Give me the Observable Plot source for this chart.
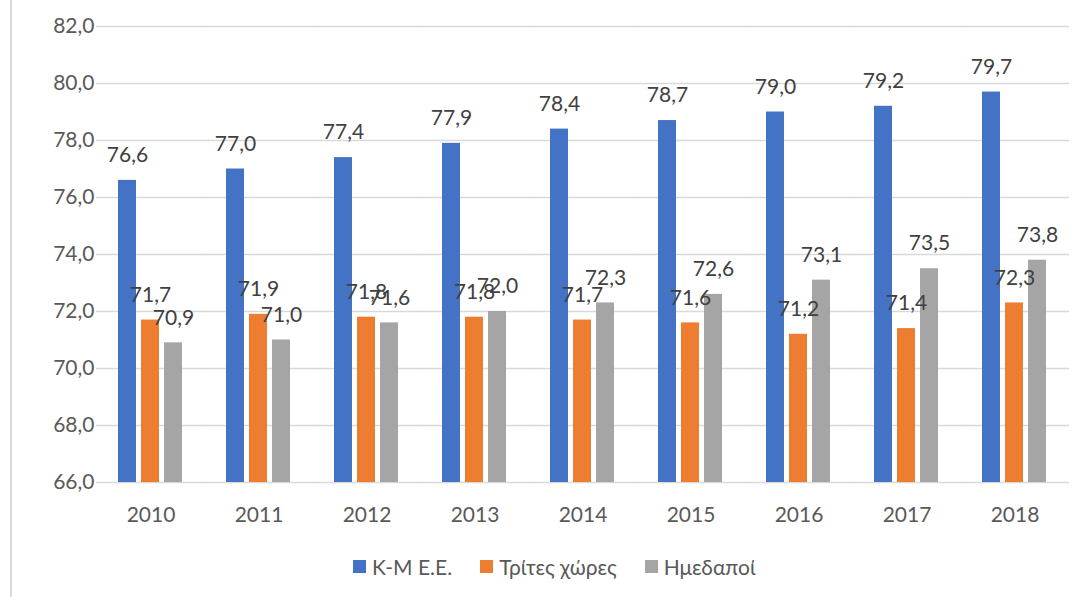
<!DOCTYPE html>
<html><head><meta charset="utf-8">
<script src="https://cdn.jsdelivr.net/npm/d3@7"></script>
<script src="https://cdn.jsdelivr.net/npm/@observablehq/plot@0.6"></script>
<style>
body{margin:0;background:#fff;font-family:Lato,"Open Sans",sans-serif;}
#wrap{position:relative;width:1088px;height:597px;overflow:hidden;}
#frame{position:absolute;left:10px;top:0;width:2px;height:597px;background:#d9d9d9;}
#chart{position:absolute;left:0;top:0;}
#legend{position:absolute;left:353px;top:554px;display:flex;align-items:center;font-size:21px;color:#595959;white-space:nowrap;}
#legend .item{display:flex;align-items:center;margin-right:28px;}
#legend .sw{width:13px;height:13px;margin-right:6px;}
</style></head>
<body>
<div id="wrap"><div id="frame"></div><div id="chart"></div><div id="legend"></div></div>
<script>
const years = ["2010","2011","2012","2013","2014","2015","2016","2017","2018"];
const series = ["Κ-Μ Ε.Ε.", "Τρίτες χώρες", "Ημεδαποί"];
const kmEE = [76.6, 77.0, 77.4, 77.9, 78.4, 78.7, 79.0, 79.2, 79.7];
const tritesXores = [71.7, 71.9, 71.8, 71.8, 71.7, 71.6, 71.2, 71.4, 72.3];
const imedapoi = [70.9, 71.0, 71.6, 72.0, 72.3, 72.6, 73.1, 73.5, 73.8];
const colors = ["#4472C4", "#ED7D31", "#A5A5A5"];
const yTicks = [66, 68, 70, 72, 74, 76, 78, 80, 82];

const valuesBySeries = [kmEE, tritesXores, imedapoi];
const data = years.flatMap((yr, i) => series.map((s, j) => ({year: yr, series: s, value: valuesBySeries[j][i]})));
const fmt = v => v.toFixed(1).replace(".", ",");
const yMin = yTicks[0], yMax = yTicks[yTicks.length - 1];

const chart = Plot.plot({
  width: 1088, height: 540,
  marginTop: 26, marginBottom: 58, marginLeft: 93, marginRight: 17,
  style: {fontFamily: "Lato, 'Open Sans', sans-serif", fontSize: "21px", color: "#595959", background: "transparent"},
  fx: {domain: years, paddingInner: 0.38, paddingOuter: 0.19, label: null, axis: "bottom", tickSize: 0, tickPadding: 25},
  x: {domain: series, paddingInner: 0.2, paddingOuter: 0, axis: null},
  y: {domain: [yMin, yMax], ticks: yTicks, tickFormat: fmt, label: null, tickSize: 0, tickPadding: 23},
  color: {domain: series, range: colors},
  marks: [
    Plot.ruleY(yTicks, {stroke: "#d9d9d9", strokeWidth: 1.5, insetLeft: -21, insetRight: -21}),
    Plot.barY(data, {fx: "year", x: "series", y1: () => yMin, y2: "value", fill: "series"}),
    Plot.text(data, {fx: "year", x: "series", y: "value", text: d => fmt(d.value), dy: -25, fill: "#404040", fontSize: 21})
  ]
});
document.getElementById("chart").appendChild(chart);

const legend = document.getElementById("legend");
series.forEach((s, i) => {
  const it = document.createElement("div");
  it.className = "item";
  it.innerHTML = `<div class="sw" style="background:${colors[i]}"></div><span>${s}</span>`;
  legend.appendChild(it);
});
</script>
</body></html>
